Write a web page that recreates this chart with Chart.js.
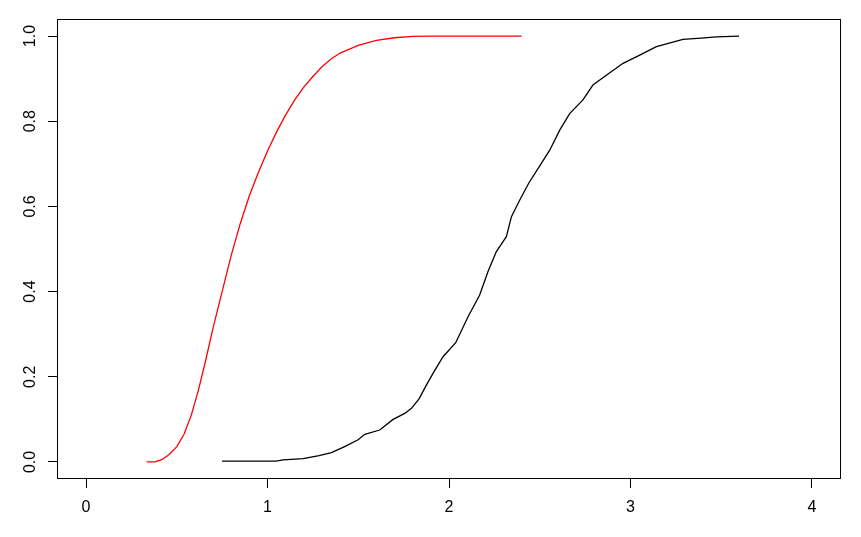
<!DOCTYPE html>
<html>
<head>
<meta charset="utf-8">
<script src="https://cdn.jsdelivr.net/npm/chart.js@4/dist/chart.umd.min.js"></script>
<style>
html,body{margin:0;padding:0;background:#fff;}
#wrap{width:861px;height:537px;}
</style>
</head>
<body>
<div id="wrap"><canvas id="c" width="861" height="537"></canvas></div>
<script>
// Tick labels
const xTicks = [0, 1, 2, 3, 4];
const yTicks = [0, 0.2, 0.4, 0.6, 0.8, 1.0];
const yTickLabels = ["0.0", "0.2", "0.4", "0.6", "0.8", "1.0"];

// Red ECDF
const redX = [0.334, 0.38, 0.42, 0.46, 0.50, 0.54, 0.58, 0.62, 0.66, 0.70, 0.75, 0.80, 0.85, 0.90, 0.95, 1.00, 1.05, 1.10, 1.15, 1.20, 1.25, 1.30, 1.35, 1.40, 1.50, 1.60, 1.70, 1.80, 1.90, 2.40];
const redY = [0.0, 0.0, 0.006, 0.018, 0.036, 0.065, 0.11, 0.17, 0.24, 0.315, 0.4, 0.485, 0.56, 0.625, 0.68, 0.73, 0.775, 0.815, 0.85, 0.88, 0.905, 0.928, 0.946, 0.96, 0.978, 0.99, 0.996, 0.999, 1.0, 1.0];

// Black ECDF
const blackX = [0.749, 1.045, 1.087, 1.196, 1.284, 1.352, 1.425, 1.499, 1.536, 1.618, 1.692, 1.756, 1.793, 1.835, 1.876, 1.912, 1.967, 2.037, 2.105, 2.169, 2.215, 2.261, 2.316, 2.344, 2.39, 2.44, 2.5, 2.555, 2.61, 2.665, 2.738, 2.793, 2.867, 2.959, 3.051, 3.143, 3.289, 3.39, 3.473, 3.598];
const blackY = [0.002, 0.002, 0.005, 0.008, 0.015, 0.022, 0.036, 0.052, 0.065, 0.075, 0.1, 0.114, 0.126, 0.148, 0.181, 0.208, 0.247, 0.28, 0.341, 0.392, 0.447, 0.494, 0.529, 0.576, 0.615, 0.655, 0.695, 0.732, 0.779, 0.818, 0.85, 0.885, 0.908, 0.936, 0.955, 0.975, 0.992, 0.995, 0.998, 1.0];

const toPts = (xs, ys) => xs.map((x, i) => ({x: x, y: ys[i]}));

const FONT = '16px "Liberation Sans", Arial, sans-serif';

const rAxes = {
  id: 'rAxes',
  afterDraw(chart) {
    const ctx = chart.ctx;
    const a = chart.chartArea;
    const xs = chart.scales.x, ys = chart.scales.y;
    ctx.save();
    ctx.strokeStyle = '#000';
    ctx.lineWidth = 1;
    ctx.strokeRect(Math.round(a.left) + 0.5, Math.round(a.top) + 0.5, Math.round(a.right - a.left) - 1, Math.round(a.bottom - a.top) - 1);
    ctx.fillStyle = '#000';
    ctx.font = FONT;
    ctx.textAlign = 'center';
    ctx.textBaseline = 'middle';
    xTicks.forEach(v => {
      ctx.fillText(String(v), xs.getPixelForValue(v), 508);
    });
    yTicks.forEach((v, i) => {
      const py = ys.getPixelForValue(v);
      ctx.save();
      ctx.translate(31, py);
      ctx.rotate(-Math.PI / 2);
      ctx.fillText(yTickLabels[i], 0, 0);
      ctx.restore();
    });
    ctx.restore();
  }
};

new Chart(document.getElementById('c'), {
  type: 'scatter',
  data: {
    datasets: [
      {data: toPts(redX, redY), borderColor: '#ff0000', borderWidth: 1.3, showLine: true, pointRadius: 0, tension: 0, fill: false},
      {data: toPts(blackX, blackY), borderColor: '#000000', borderWidth: 1.3, showLine: true, pointRadius: 0, tension: 0, fill: false}
    ]
  },
  options: {
    responsive: false,
    animation: false,
    devicePixelRatio: 1,
    layout: {padding: {top: 19, right: 20, left: 0, bottom: 0}},
    plugins: {legend: {display: false}, tooltip: {enabled: false}},
    scales: {
      x: {
        type: 'linear', min: -0.16, max: 4.16,
        afterBuildTicks: s => { s.ticks = xTicks.map(v => ({value: v})); },
        afterFit: s => { s.height = 58; },
        ticks: {display: false},
        grid: {drawOnChartArea: false, drawTicks: true, tickLength: 9, color: '#000', lineWidth: 1},
        border: {display: false}
      },
      y: {
        type: 'linear', min: -0.04, max: 1.04,
        afterBuildTicks: s => { s.ticks = yTicks.map(v => ({value: v})); },
        afterFit: s => { s.width = 57; },
        ticks: {display: false},
        grid: {drawOnChartArea: false, drawTicks: true, tickLength: 9, color: '#000', lineWidth: 1},
        border: {display: false}
      }
    }
  },
  plugins: [rAxes]
});
</script>
</body>
</html>
